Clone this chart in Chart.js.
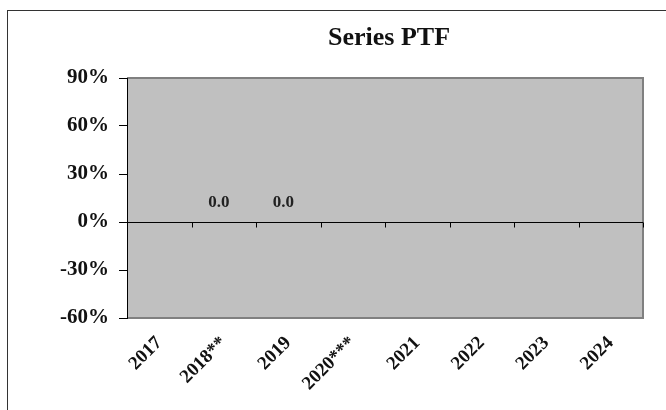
<!DOCTYPE html>
<html>
<head>
<meta charset="utf-8">
<title>Series PTF</title>
<script src="https://cdn.jsdelivr.net/npm/chart.js@4/dist/chart.umd.min.js"></script>
<style>
  html, body { margin: 0; padding: 0; background: #fff; }
  #wrap { width: 666px; height: 410px; }
</style>
</head>
<body>
<div id="wrap"><canvas id="chart" width="666" height="410"></canvas></div>
<script>
// chart data
var categories = ['2017', '2018**', '2019', '2020***', '2021', '2022', '2023', '2024'];
var ptfValues = [null, 0.0, 0.0, null, null, null, null, null];
var yTicks = [-60, -30, 0, 30, 60, 90];
var chartTitle = 'Series PTF';

var serif = "'Liberation Serif', 'Times New Roman', serif";

// frame, grey plot area, zero line, ticks, labels, title
var excelLook = {
    id: 'excelLook',
    beforeDraw: function (chart) {
        var ctx = chart.ctx, a = chart.chartArea;
        ctx.save();
        ctx.fillStyle = '#fff';
        ctx.fillRect(0, 0, chart.width, chart.height);
        ctx.strokeStyle = '#333';
        ctx.lineWidth = 1;
        ctx.strokeRect(7.5, 10.5, 700, 500);
        ctx.fillStyle = '#c0c0c0';
        ctx.fillRect(a.left, a.top, a.right - a.left, a.bottom - a.top);
        ctx.strokeStyle = '#808080';
        ctx.lineWidth = 2;
        ctx.beginPath();
        ctx.moveTo(a.left, a.top);
        ctx.lineTo(a.right, a.top);
        ctx.lineTo(a.right, a.bottom);
        ctx.lineTo(a.left, a.bottom);
        ctx.stroke();
        ctx.restore();
    },
    afterDraw: function (chart) {
        var ctx = chart.ctx, a = chart.chartArea;
        var x = chart.scales.x, y = chart.scales.y;
        var y0 = Math.round(y.getPixelForValue(0)) + 0.5;
        ctx.save();
        ctx.strokeStyle = '#000';
        ctx.lineWidth = 1;
        ctx.beginPath();
        ctx.moveTo(a.left, y0);
        ctx.lineTo(a.right, y0);
        var half = (x.getPixelForValue(1) - x.getPixelForValue(0)) / 2;
        for (var i = 0; i < categories.length; i++) {
            var tx = Math.round(x.getPixelForValue(i) + half) + 0.5;
            ctx.moveTo(tx, y0);
            ctx.lineTo(tx, y0 + 5);
        }
        ctx.stroke();

        // data labels
        ctx.fillStyle = '#222';
        ctx.font = 'bold 17px ' + serif;
        ctx.textAlign = 'center';
        ctx.textBaseline = 'middle';
        var meta = chart.getDatasetMeta(0);
        ptfValues.forEach(function (v, i) {
            if (v === null) return;
            var el = meta.data[i];
            ctx.fillText(v.toFixed(1), el.x - 5, el.y - 19);
        });

        // title
        ctx.font = 'bold 26px ' + serif;
        ctx.fillStyle = '#111';
        ctx.fillText(chartTitle, (a.left + a.right) / 2 + 4, 38);
        ctx.restore();
    }
};

var config = {
    type: 'bar',
    data: {
        labels: categories,
        datasets: [{
            label: chartTitle,
            data: ptfValues,
            backgroundColor: 'rgba(0,0,0,0)',
            borderWidth: 0
        }]
    },
    options: {
        responsive: false,
        animation: false,
        layout: { padding: { top: 78, right: 23, left: 0, bottom: 0 } },
        plugins: {
            legend: { display: false },
            title: { display: false },
            tooltip: { enabled: false }
        },
        scales: {
            x: {
                grid: { display: false },
                border: { display: false },
                ticks: {
                    color: '#111',
                    font: { family: serif, size: 19, weight: 'bold' },
                    minRotation: 45,
                    maxRotation: 45,
                    padding: 6
                },
                afterFit: function (s) { s.height = 92; }
            },
            y: {
                min: -60,
                max: 90,
                afterBuildTicks: function (s) {
                    s.ticks = yTicks.map(function (v) { return { value: v }; });
                },
                grid: {
                    drawOnChartArea: false,
                    color: '#000',
                    tickLength: 8
                },
                border: { display: true, color: '#000', width: 1 },
                ticks: {
                    color: '#111',
                    font: { family: serif, size: 21, weight: 'bold' },
                    padding: 10,
                    callback: function (v) { return v + '%'; }
                },
                afterFit: function (s) { s.width = 127; }
            }
        }
    },
    plugins: [excelLook]
};

new Chart(document.getElementById('chart'), config);
</script>
</body>
</html>
